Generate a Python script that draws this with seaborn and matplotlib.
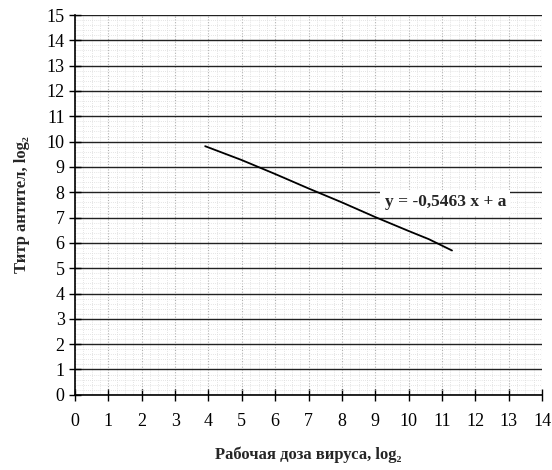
import matplotlib
matplotlib.use("Agg")
import matplotlib.pyplot as plt
from matplotlib.ticker import MultipleLocator
import seaborn as sns
import pandas as pd

# data
dose = [3.9, 5.0, 6.0, 7.0, 8.0, 9.0, 10.0, 10.6, 11.3]
titer = [9.82, 9.27, 8.72, 8.15, 7.6, 7.02, 6.47, 6.15, 5.7]
x_ticks = list(range(0, 15))
y_ticks = list(range(0, 16))
equation = "y = -0,5463 x + a"
xlabel = "Рабочая доза вируса, log₂"
ylabel = "Титр антител, log₂"

sns.set_style("white")
plt.rcParams['font.family'] = ['Liberation Serif', 'DejaVu Serif']

df = pd.DataFrame({"dose": dose, "titer": titer})

fig = plt.figure(figsize=(5.52, 4.70), dpi=100)
ax = fig.add_axes([0.136, 0.16, 0.846, 0.808])

ax.set_xlim(0, 14)
ax.set_ylim(0, 15)
ax.set_xticks(x_ticks)
ax.set_yticks(y_ticks)
ax.xaxis.set_minor_locator(MultipleLocator(0.25))
ax.yaxis.set_minor_locator(MultipleLocator(0.2))

ax.grid(which='minor', axis='both', color='#dcdcdc', linestyle=(0, (1, 1.5)), linewidth=0.6)
ax.grid(which='major', axis='x', color='#b0b0b0', linestyle=(0, (1, 1.5)), linewidth=0.8)
ax.grid(which='major', axis='y', color='#222222', linestyle='-', linewidth=1.0)
ax.set_axisbelow(True)

sns.lineplot(data=df, x="dose", y="titer", ax=ax, color='black', linewidth=1.3)

for s in ['top', 'right']:
    ax.spines[s].set_visible(False)
for s in ['left', 'bottom']:
    ax.spines[s].set_color('black')
    ax.spines[s].set_linewidth(1.2)

ax.tick_params(which='major', direction='inout', length=8, width=1, colors='black',
               labelsize=13, left=True, bottom=True)
ax.tick_params(which='minor', length=0)
ax.tick_params(axis='x', pad=9)

ax.text(11.1, 7.6, equation, fontsize=12.5, fontweight='bold', ha='center', va='center',
        bbox=dict(facecolor='white', edgecolor='none', pad=3))

ax.set_xlabel(xlabel, fontsize=12, fontweight='bold', labelpad=12)
ax.set_ylabel(ylabel, fontsize=12, fontweight='bold', labelpad=12)

fig.savefig("out.png", dpi=100)
